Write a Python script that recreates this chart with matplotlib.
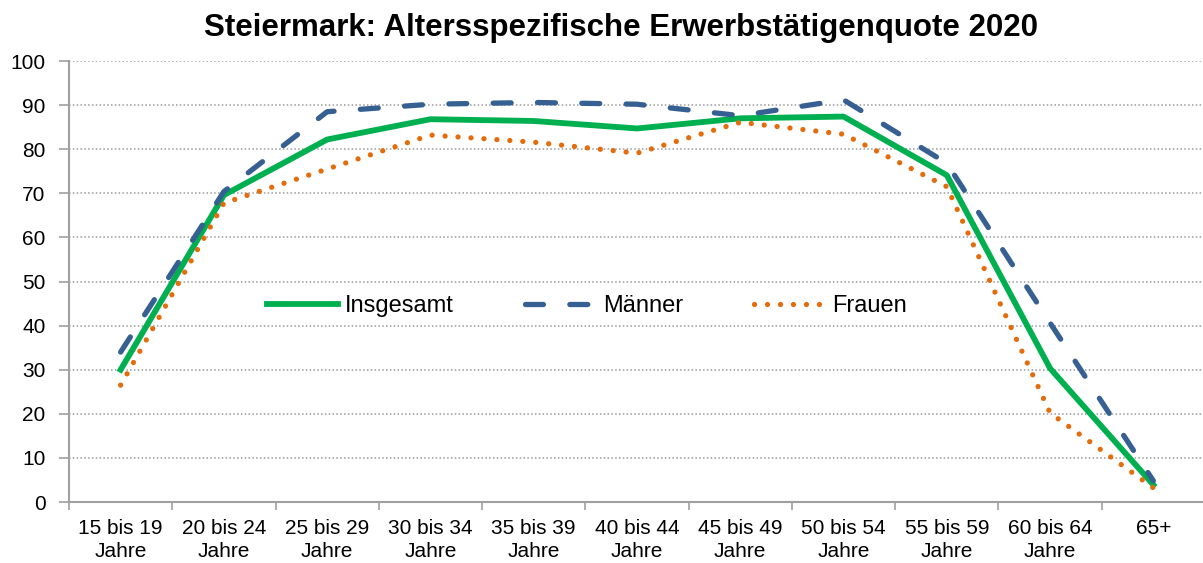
import matplotlib.pyplot as plt
import numpy as np

plt.rcParams['font.family'] = ['Liberation Sans', 'DejaVu Sans']

categories = ['15 bis 19\nJahre', '20 bis 24\nJahre', '25 bis 29\nJahre', '30 bis 34\nJahre',
              '35 bis 39\nJahre', '40 bis 44\nJahre', '45 bis 49\nJahre', '50 bis 54\nJahre',
              '55 bis 59\nJahre', '60 bis 64\nJahre', '65+']
insgesamt = [30.0, 69.6, 82.2, 86.8, 86.4, 84.7, 87.0, 87.4, 74.1, 30.3, 3.9]
maenner = [34.0, 70.4, 88.5, 90.2, 90.6, 90.2, 87.6, 91.2, 76.8, 40.6, 4.8]
frauen = [26.5, 67.8, 75.5, 83.2, 81.6, 79.1, 86.1, 83.4, 71.5, 20.2, 3.2]

fig = plt.figure(figsize=(12.03, 5.63), dpi=100)
ax = fig.add_axes([69 / 1203, 61 / 563, 1136 / 1203, 441 / 563])

x = np.arange(len(categories))
ax.plot(x, insgesamt, color='#00b050', lw=4.2, label='Insgesamt')
ax.plot(x, maenner, color='#376092', lw=3.8, dashes=(3.4, 5.0), label='Männer',
        dash_capstyle='round')
ax.plot(x, frauen, color='#e46c0a', lw=3.8, dashes=(0.01, 2.45), label='Frauen',
        dash_capstyle='round')

ax.set_xlim(-0.5, len(categories) - 0.5)
ax.set_ylim(0, 100)
ax.set_yticks(range(0, 101, 10))
ax.set_xticks(x)
ax.set_xticklabels(categories, fontsize=15, linespacing=1.3)
ax.set_xticks(np.arange(-0.5, len(categories), 1), minor=True)
ax.tick_params(axis='x', which='major', length=0, pad=12)
ax.tick_params(axis='x', which='minor', length=6, color='#a0a0a0', width=1.2)
ax.tick_params(axis='y', labelsize=15, length=7, color='#a0a0a0', width=1.2, pad=10)

for v in range(10, 101, 10):
    ax.axhline(v, color='#9a9a9a', lw=1.1, ls=(0, (1.0, 1.5)), zorder=0)

for s in ['top', 'right']:
    ax.spines[s].set_visible(False)
for s in ['left', 'bottom']:
    ax.spines[s].set_color('#a0a0a0')
    ax.spines[s].set_linewidth(1.5)

ax.legend(loc='center', bbox_to_anchor=(0.456, 0.444), ncol=3, frameon=False,
          fontsize=17, handlelength=3.0, columnspacing=3.0, handletextpad=0.3)

fig.text(621 / 1203, 1 - 36 / 563, 'Steiermark: Altersspezifische Erwerbstätigenquote 2020',
         ha='center', va='baseline', fontsize=22.5, fontweight='bold')

fig.savefig('out.png', dpi=100)
